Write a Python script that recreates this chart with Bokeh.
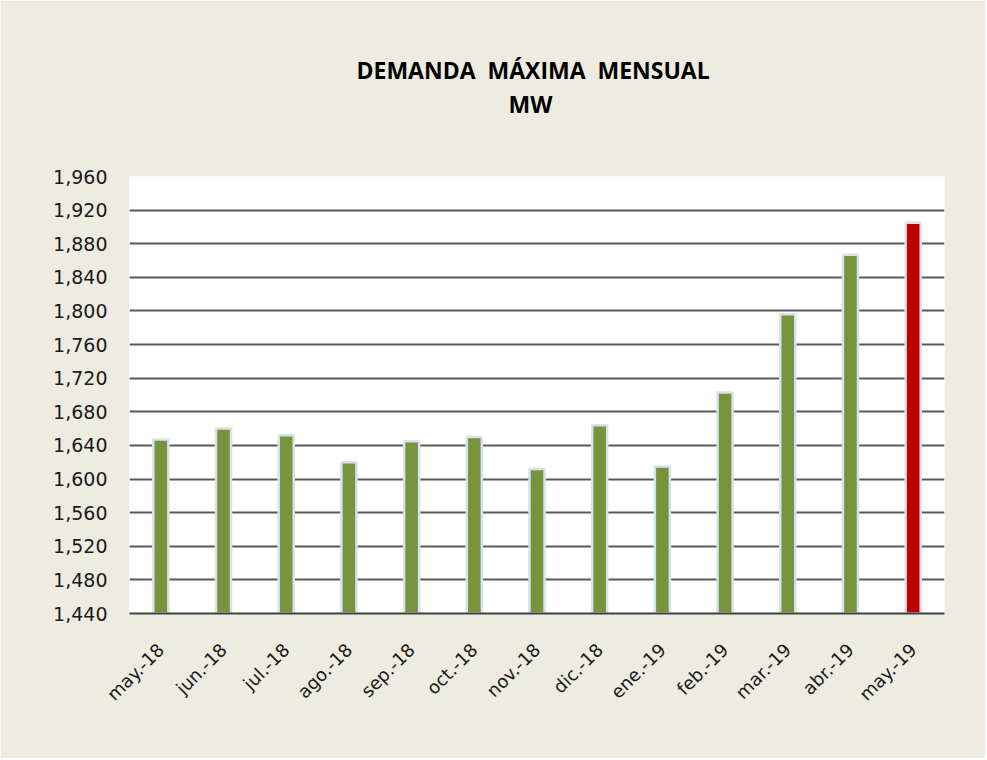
import math
from bokeh.plotting import figure
from bokeh.models import (ColumnDataSource, Range1d, FixedTicker, NumeralTickFormatter, Title)
from bokeh.embed import file_html
from bokeh.resources import INLINE

months = ["may.-18", "jun.-18", "jul.-18", "ago.-18", "sep.-18", "oct.-18", "nov.-18",
          "dic.-18", "ene.-19", "feb.-19", "mar.-19", "abr.-19", "may.-19"]
demand_mw = [1647, 1660, 1652, 1620, 1645, 1650, 1612, 1664, 1615, 1703, 1796, 1867, 1905]
bar_colors = ["#77933C"] * 12 + ["#C00000"]
y_ticks = list(range(1440, 1961, 40))
title_line1 = "DEMANDA\u00a0 MÁXIMA\u00a0 MENSUAL"
title_line2 = "MW"

BG = "#EEECE1"

p = figure(x_range=months, y_range=Range1d(1440, 1960),
           width=985, height=758, output_backend="svg", toolbar_location=None,
           background_fill_color="white", border_fill_color=BG,
           min_border_left=129, min_border_right=41, min_border_bottom=145,
           min_border_top=176)

src = ColumnDataSource(dict(m=months, v=demand_mw, c=bar_colors))
p.vbar(x="m", top="v", bottom=1440, width=0.24, source=src,
       fill_color="c", line_color="#D5E2F0", line_width=2.5)

# spacer between plot and title block, then the two title lines
p.add_layout(Title(text="\u00a0", text_font_size="1px", standoff=54,
                   border_line_color=None), "above")
for txt, off in ((title_line2, 379), (title_line1, 227)):
    p.add_layout(Title(text=txt, align="left", text_font="Open Sans",
                       text_font_size="23px", text_font_style="bold",
                       text_color="#000000", standoff=0, offset=off), "above")

p.outline_line_color = None
p.xgrid.grid_line_color = None
p.ygrid.grid_line_color = "#595959"
p.ygrid.grid_line_width = 2
p.ygrid.level = "underlay"

p.yaxis.ticker = FixedTicker(ticks=y_ticks)
p.yaxis.formatter = NumeralTickFormatter(format="0,0")
p.yaxis.axis_line_color = None
p.yaxis.major_tick_line_color = None
p.yaxis.minor_tick_line_color = None
p.yaxis.major_label_standoff = 16
p.yaxis.major_label_text_font = "DejaVu Sans"
p.yaxis.major_label_text_font_size = "19px"
p.yaxis.major_label_text_color = "#1a1a1a"

p.xaxis.axis_line_color = "#404040"
p.xaxis.axis_line_width = 2
p.xaxis.major_tick_line_color = None
p.xaxis.minor_tick_line_color = None
p.xaxis.major_label_orientation = math.pi / 4
p.xaxis.major_label_standoff = 27
p.xaxis.major_label_text_font = "DejaVu Sans"
p.xaxis.major_label_text_font_size = "18px"
p.xaxis.major_label_text_color = "#1a1a1a"

open("out.html", "w").write(file_html(p, INLINE))
